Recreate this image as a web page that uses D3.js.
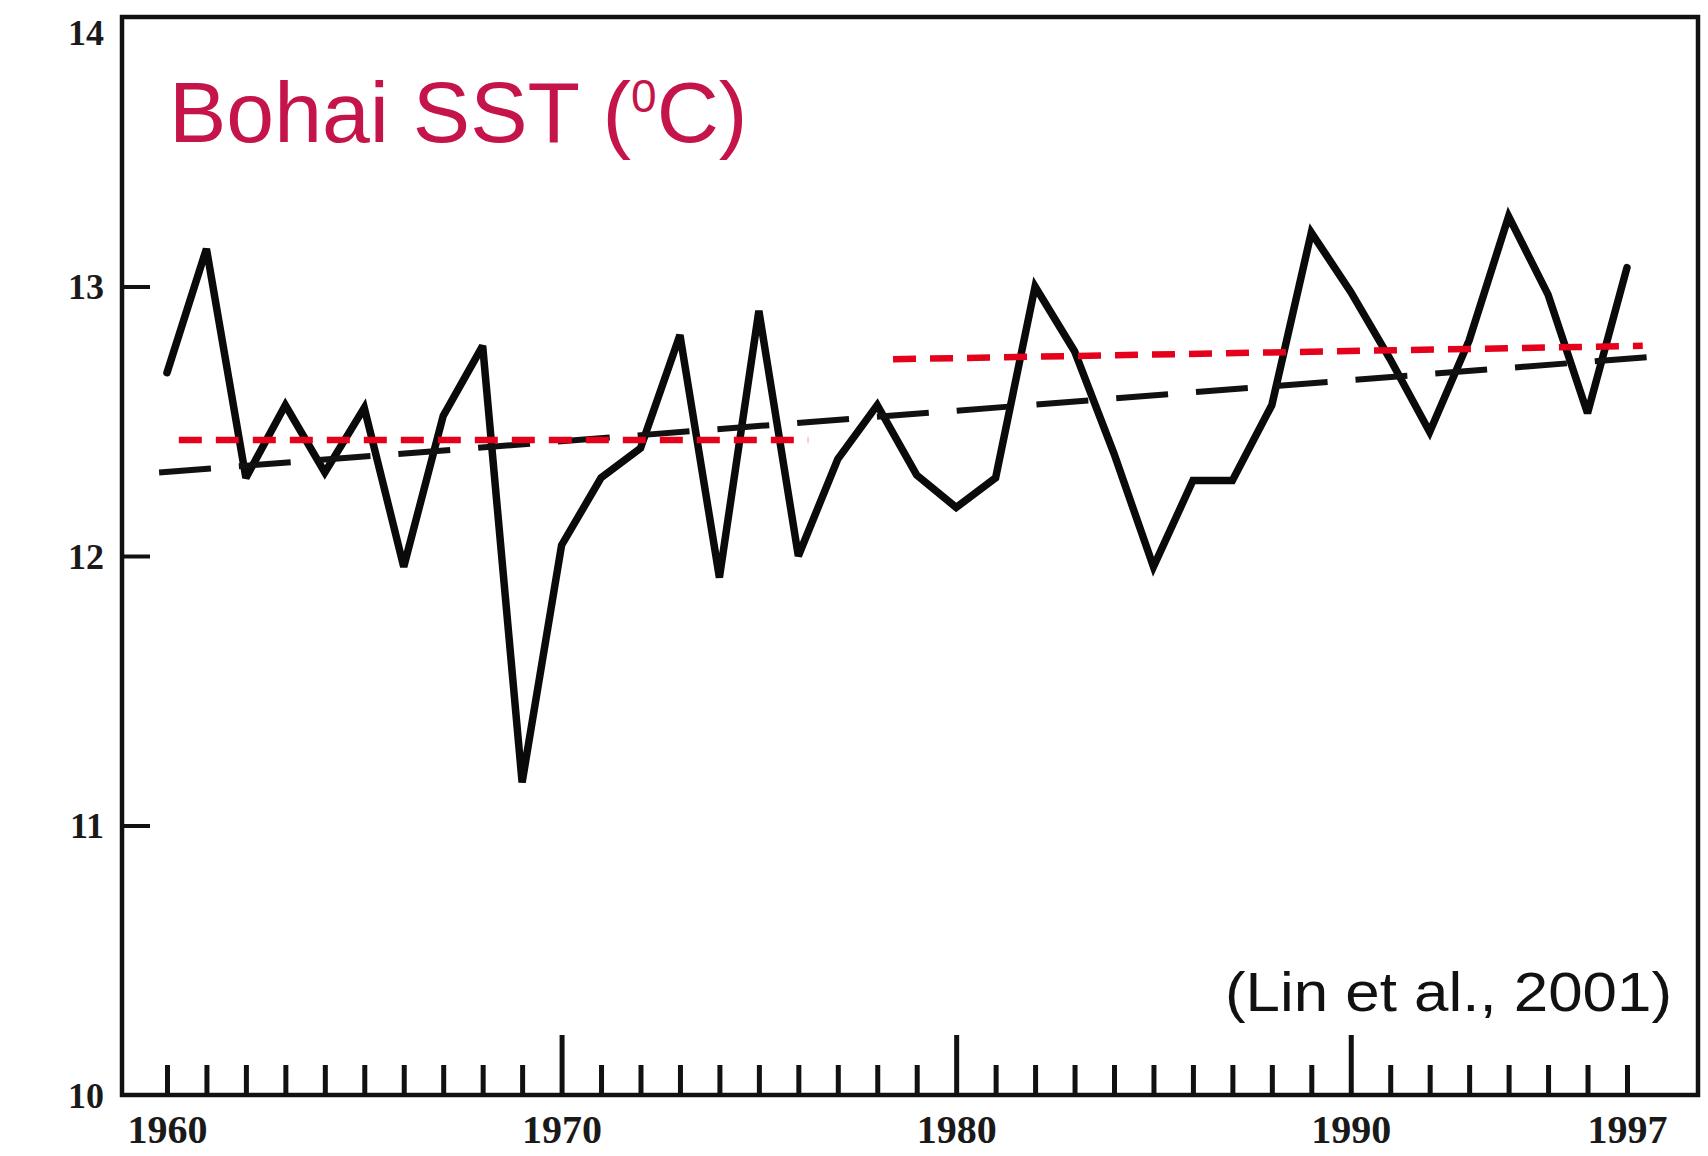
<!DOCTYPE html>
<html>
<head>
<meta charset="utf-8">
<script src="https://cdn.jsdelivr.net/npm/d3@7"></script>
<style>
  html, body { margin: 0; padding: 0; background: #ffffff; }
  svg { display: block; }
</style>
</head>
<body>
<svg id="chart" width="1708" height="1156"></svg>
<script>
// ---------------- data ----------------
const years = [1960,1961,1962,1963,1964,1965,1966,1967,1968,1969,
               1970,1971,1972,1973,1974,1975,1976,1977,1978,1979,
               1980,1981,1982,1983,1984,1985,1986,1987,1988,1989,
               1990,1991,1992,1993,1994,1995,1996,1997];
const sst = [12.68,13.14,12.29,12.56,12.31,12.55,11.96,12.52,12.78,11.16,
             12.04,12.29,12.40,12.82,11.92,12.91,12.00,12.36,12.56,12.30,
             12.18,12.29,13.00,12.76,12.38,11.96,12.28,12.28,12.56,13.20,
             12.98,12.73,12.46,12.80,13.26,12.97,12.53,13.07];

// linear trend (black long dashes)
const trendYears = [1959.8, 1997.7];
const trendValues = [12.31, 12.74];
// period means (red dashes)
const mean1Years = [1960.3, 1976.25];
const mean1Values = [12.43, 12.43];
const mean2Years = [1978.4, 1997.4];
const mean2Values = [12.73, 12.78];

const yTickValues = [10, 11, 12, 13, 14];
const xLabelYears = [1960, 1970, 1980, 1990, 1997];
const majorTickYears = [1970, 1980, 1990];

const titleText = "Bohai SST (";
const titleSup = "0";
const titleEnd = "C)";
const citation = "(Lin et al., 2001)";

// ---------------- layout ----------------
const svg = d3.select("#chart");
const M = { left: 122, right: 1698, top: 17, bottom: 1095 };

const x = d3.scaleLinear().domain([1958.86, 1998.8]).range([M.left, M.right]);
const y = d3.scaleLinear().domain([10, 14]).range([M.bottom, M.top]);

// frame
svg.append("rect")
  .attr("x", M.left).attr("y", M.top)
  .attr("width", M.right - M.left).attr("height", M.bottom - M.top)
  .attr("fill", "none").attr("stroke", "#111").attr("stroke-width", 4.5);

// x ticks (inside, pointing up) via d3 axis
const xMinor = d3.axisBottom(x).tickValues(years.filter(d => !majorTickYears.includes(d)))
  .tickSize(-30).tickFormat("");
const xMajor = d3.axisBottom(x).tickValues(majorTickYears).tickSize(-60).tickFormat("");
[xMinor, xMajor].forEach(ax => {
  const g = svg.append("g").attr("transform", `translate(0,${M.bottom})`).call(ax);
  g.select(".domain").remove();
  g.selectAll(".tick line").attr("stroke", "#111").attr("stroke-width", 5);
});
// x labels
const xLab = d3.axisBottom(x).tickValues(xLabelYears).tickSize(0).tickPadding(0).tickFormat(d3.format("d"));
const gxl = svg.append("g").attr("transform", `translate(0,${M.bottom})`).call(xLab);
gxl.select(".domain").remove();
gxl.selectAll(".tick text")
  .attr("y", 48).attr("dy", 0)
  .attr("font-family", "'Liberation Serif', 'DejaVu Serif', serif")
  .attr("font-weight", "bold").attr("font-size", 40).attr("fill", "#1a1a1a");

// y ticks (inside, pointing right) + labels
const yAx = d3.axisLeft(y).tickValues(yTickValues).tickSize(-28).tickPadding(0).tickFormat(d3.format("d"));
const gy = svg.append("g").attr("transform", `translate(${M.left},0)`).call(yAx);
gy.select(".domain").remove();
gy.selectAll(".tick line").attr("stroke", "#111").attr("stroke-width", 4)
  .attr("display", d => (d === 10 || d === 14) ? "none" : null);
gy.selectAll(".tick text")
  .attr("x", -18)
  .attr("dy", d => d === 14 ? "0.75em" : "0.34em")
  .attr("font-family", "'Liberation Serif', 'DejaVu Serif', serif")
  .attr("font-weight", "bold").attr("font-size", 36).attr("fill", "#1a1a1a");

// ---------------- series ----------------
const line = d3.line().x(d => x(d[0])).y(d => y(d[1]));

svg.append("path")
  .datum(years.map((yr, i) => [yr, sst[i]]))
  .attr("d", line)
  .attr("fill", "none").attr("stroke", "#0a0a0a").attr("stroke-width", 7.5)
  .attr("stroke-linejoin", "miter").attr("stroke-miterlimit", 3)
  .attr("stroke-linecap", "round");

svg.append("path")
  .datum(trendYears.map((yr, i) => [yr, trendValues[i]]))
  .attr("d", line)
  .attr("fill", "none").attr("stroke", "#111").attr("stroke-width", 6)
  .attr("stroke-dasharray", "52 28");

[[mean1Years, mean1Values], [mean2Years, mean2Values]].forEach(([ys, vs]) => {
  svg.append("path")
    .datum(ys.map((yr, i) => [yr, vs[i]]))
    .attr("d", line)
    .attr("fill", "none").attr("stroke", "#e5001c").attr("stroke-width", 6.5)
    .attr("stroke-dasharray", "23 14");
});

// ---------------- texts ----------------
const title = svg.append("text")
  .attr("x", 169).attr("y", 142)
  .attr("font-family", "Arial, 'Liberation Sans', sans-serif")
  .attr("font-size", 86).attr("fill", "#c4144a");
title.append("tspan").text(titleText);
title.append("tspan").attr("font-size", 46).attr("dy", -30).text(titleSup);
title.append("tspan").attr("dy", 30).text(titleEnd);

svg.append("text")
  .attr("x", 1672).attr("y", 1011)
  .attr("text-anchor", "end")
  .attr("font-family", "Arial, 'Liberation Sans', sans-serif")
  .attr("font-size", 56).attr("fill", "#111")
  .attr("textLength", 447).attr("lengthAdjust", "spacingAndGlyphs")
  .text(citation);
</script>
</body>
</html>
